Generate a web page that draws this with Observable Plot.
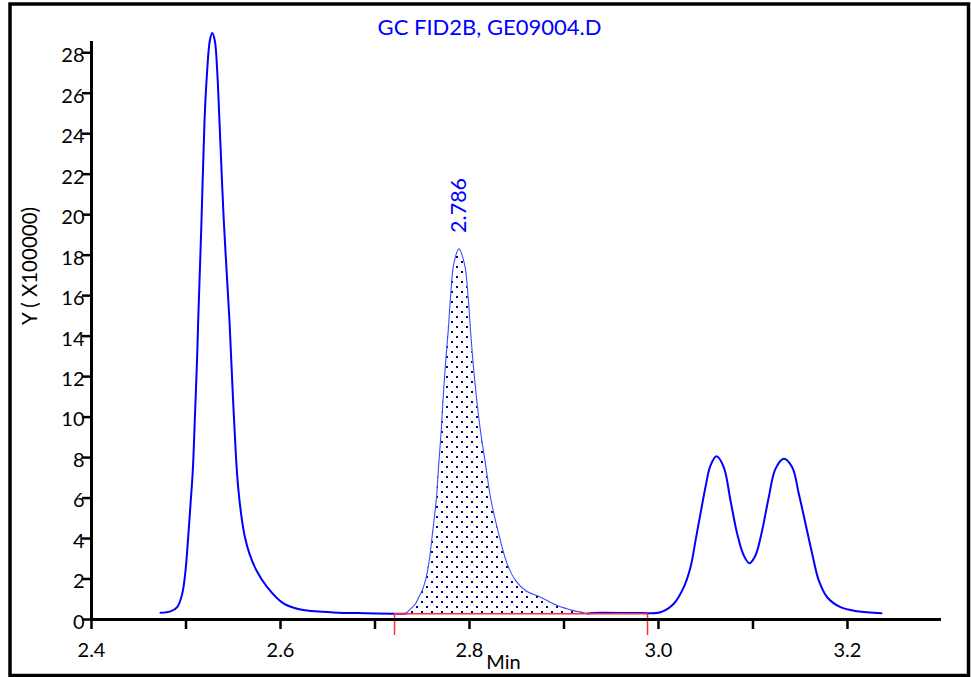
<!DOCTYPE html>
<html>
<head>
<meta charset="utf-8">
<script src="https://cdn.jsdelivr.net/npm/d3@7"></script>
<script src="https://cdn.jsdelivr.net/npm/@observablehq/plot@0.6"></script>
<style>
  html, body { margin: 0; padding: 0; background: #fff; }
  svg { display: block; }
</style>
</head>
<body>
<div id="chart"></div>
<script>
// ---- Data (time in min, signal in units of 100000) ----
const time = [
  2.4730, 2.4836, 2.4907, 2.4960, 2.4995, 2.5023, 2.5048, 2.5072, 2.5093, 2.5119,
  2.5129, 2.5164, 2.5196, 2.5224, 2.5252, 2.5277, 2.5305, 2.5330, 2.5354, 2.5400,
  2.5460, 2.5492, 2.5527, 2.5552, 2.5593, 2.5624, 2.5672, 2.5746, 2.5859, 2.6035,
  2.6212, 2.6561, 2.6900, 2.7270, 2.7330,
  2.7358, 2.7429, 2.7463, 2.7499, 2.7534, 2.7569, 2.7612, 2.7651, 2.7675, 2.7701,
  2.7722, 2.7746, 2.7775, 2.7799, 2.7834, 2.7887, 2.7947, 2.7986, 2.8011, 2.8039,
  2.8074, 2.8116, 2.8169, 2.8222, 2.8300, 2.8399, 2.8487, 2.8593, 2.8751, 2.8928,
  2.9104, 2.9245, 2.9386, 2.9810, 3.0021,
  3.0162, 3.0268, 3.0339, 3.0392, 3.0444, 3.0497, 3.0550, 3.0614, 3.0691, 3.0762,
  3.0833, 3.0903, 3.0963, 3.1026, 3.1097, 3.1167, 3.1238, 3.1326, 3.1415, 3.1485,
  3.1556, 3.1627, 3.1696, 3.1785, 3.1926, 3.2103, 3.2360
];
const signal = [
  0.33, 0.40, 0.61, 1.27, 2.42, 4.06, 5.71, 7.36, 9.83, 13.12,
  14.77, 19.70, 24.64, 27.11, 28.59, 28.97, 28.59, 27.11, 24.64, 19.70,
  14.77, 11.47, 8.20, 6.53, 4.89, 4.06, 3.24, 2.42, 1.60, 0.78,
  0.49, 0.35, 0.31, 0.29, 0.30,
  0.44, 0.78, 1.10, 1.43, 1.93, 2.75, 4.40, 6.04, 7.69, 9.33,
  10.98, 12.63, 14.27, 15.92, 17.57, 18.31, 17.57, 15.92, 14.27, 12.63,
  10.98, 9.33, 7.69, 6.04, 4.40, 2.75, 1.93, 1.43, 1.10, 0.69,
  0.44, 0.30, 0.33, 0.32, 0.36,
  0.78, 1.60, 2.58, 3.90, 5.22, 6.53, 7.60, 8.06, 7.52, 5.88,
  4.23, 3.16, 2.78, 3.16, 4.40, 6.04, 7.44, 7.94, 7.52, 6.21,
  4.73, 3.24, 1.93, 1.10, 0.61, 0.41, 0.31
];

// Integrated peak: start/end times and baseline level
const integrationStart = 2.7207;
const integrationEnd = 2.9884;
const integrationBaseline = 0.28;
const peakRetentionTimes = [2.786];
const peakLabels = ["2.786"];

// Axis ticks
const xMajorTicks = [2.4, 2.6, 2.8, 3.0, 3.2];
const xMajorLabels = ["2.4", "2.6", "2.8", "3.0", "3.2"];
const xMinorTicks = [2.5, 2.7, 2.9, 3.1];
const yTicks = [0, 2, 4, 6, 8, 10, 12, 14, 16, 18, 20, 22, 24, 26, 28];
const yTickLabels = ["0", "2", "4", "6", "8", "10", "12", "14", "16", "18", "20", "22", "24", "26", "28"];

// Texts
const titleText = "GC FID2B, GE09004.D";
const xLabelText = "Min";
const yLabelText = "Y ( X100000)";

// ---- Build ----
const data = time.map((t, i) => ({t, v: signal[i]}));
const thinFrom = 2.7330, thinTo = 2.9245;
const before = data.filter(d => d.t <= thinFrom);
const peakPart = data.filter(d => d.t >= thinFrom && d.t <= thinTo);
const after = data.filter(d => d.t >= thinTo);
const fillPart = data.filter(d => d.t >= integrationStart && d.t <= thinTo);
const peakMax = d3.max(peakPart, d => d.v);
const labelData = peakRetentionTimes.map((t, i) => ({t, v: peakMax, label: peakLabels[i]}));

const font = "Lato, 'Noto Sans', sans-serif";
const blue = "#0000ff";
const curve = "catmull-rom";

const plot = Plot.plot({
  width: 971,
  height: 677,
  marginLeft: 91,
  marginRight: 30,
  marginTop: 32,
  marginBottom: 58,
  style: {fontFamily: font, fontSize: "20px", color: "#000", background: "#fff", overflow: "visible"},
  x: {domain: [2.4, 3.2995], label: null},
  y: {domain: [0, 29], label: null},
  marks: [
    // dotted integrated area
    Plot.areaY(fillPart, {x: "t", y1: integrationBaseline, y2: "v", fill: "url(#dots)", curve}),
    // signal trace
    Plot.lineY(before, {x: "t", y: "v", stroke: blue, strokeWidth: 2, curve}),
    Plot.lineY(peakPart, {x: "t", y: "v", stroke: "#3b4bff", strokeWidth: 1.1, curve}),
    Plot.lineY(after, {x: "t", y: "v", stroke: blue, strokeWidth: 2, curve}),
    // integration baseline and markers
    Plot.ruleY([integrationBaseline], {x1: integrationStart, x2: integrationEnd, stroke: "#ff3030", strokeWidth: 1.5}),
    Plot.ruleX([integrationStart, integrationEnd], {y1: integrationBaseline, y2: 0, insetBottom: -16, stroke: "#ff3030", strokeWidth: 1.5}),
    // axes lines
    Plot.ruleY([0], {stroke: "#000", strokeWidth: 3}),
    Plot.ruleX([2.4], {y1: 0, y2: 29, insetBottom: -9, stroke: "#000", strokeWidth: 3}),
    // x ticks
    Plot.axisX(xMajorTicks, {tickSize: 10, tickPadding: 13, strokeWidth: 2.5, label: null,
      tickFormat: d => xMajorLabels[xMajorTicks.indexOf(d)], fontSize: 20, fill: "#000"}),
    Plot.axisX(xMinorTicks, {tickSize: 10, strokeWidth: 2.5, label: null, tickFormat: () => ""}),
    // y ticks
    Plot.axisY(yTicks, {tickSize: 9, strokeWidth: 2.5, label: null, tickFormat: () => ""}),
    Plot.text(yTicks, {y: d => d, frameAnchor: "left", text: (d, i) => yTickLabels[i],
      textAnchor: "end", dx: -7, dy: 3, fontSize: 20, fill: "#000"}),
    // peak label
    Plot.text(labelData, {x: "t", y: "v", text: "label", rotate: -90, textAnchor: "start",
      lineAnchor: "middle", dx: 3, dy: -16, fill: blue, fontSize: 21.5}),
    // title and axis labels
    Plot.text([titleText], {text: d => d, frameAnchor: "top", textAnchor: "middle", dx: -27, dy: -13, fill: blue, fontSize: 22}),
    Plot.text([yLabelText], {text: d => d, frameAnchor: "left", textAnchor: "middle", rotate: -90, dx: -61, dy: -60, fontSize: 20.5, fill: "#000"}),
    Plot.text([xLabelText], {text: d => d, frameAnchor: "bottom", textAnchor: "middle", dx: -13, dy: 49, fontSize: 20, fill: "#000"}),
    // outer border
    Plot.frame({insetLeft: -81.5, insetTop: -28.5, insetRight: -27, insetBottom: -56, stroke: "#000", strokeWidth: 3.5})
  ]
});

// dot-hatch pattern for the integrated peak
const svg = d3.select(plot);
const defs = svg.insert("defs", ":first-child");
const pat = defs.append("pattern")
  .attr("id", "dots")
  .attr("patternUnits", "userSpaceOnUse")
  .attr("width", 10)
  .attr("height", 10);
pat.append("rect").attr("width", 10).attr("height", 10).attr("fill", "#fff");
pat.append("rect").attr("x", 1).attr("y", 1).attr("width", 2).attr("height", 2)
  .attr("fill", "#000080").attr("shape-rendering", "crispEdges");
pat.append("rect").attr("x", 6).attr("y", 6).attr("width", 2).attr("height", 2)
  .attr("fill", "#000080").attr("shape-rendering", "crispEdges");

document.getElementById("chart").appendChild(plot);
</script>
</body>
</html>
